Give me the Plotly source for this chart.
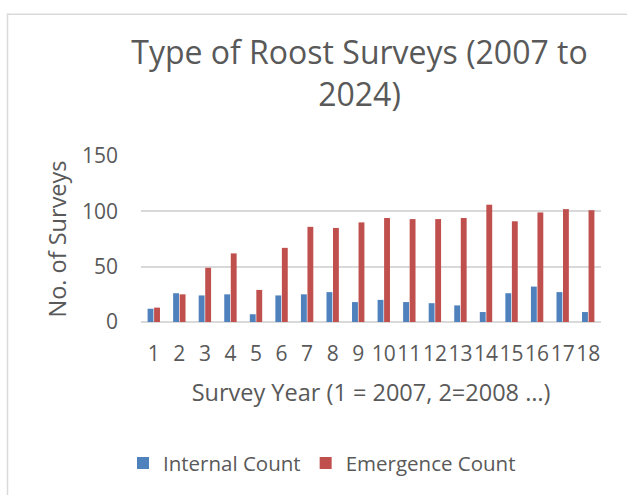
import plotly.graph_objects as go

# Survey year index (1 = 2007 ... 18 = 2024)
years = [str(i) for i in range(1, 19)]
internal_count = [12, 26, 24, 25, 7, 24, 25, 27, 18, 20, 18, 17, 15, 9, 26, 32, 27, 9]
emergence_count = [13, 25, 49, 62, 29, 67, 86, 85, 90, 94, 93, 93, 94, 106, 91, 99, 102, 101]

W, H = 627, 495
L, R, T, B = 141, 26, 156, 171  # plot area 141..601 x 156..324
FONT = "Open Sans"
GREY = "#595959"
GRID = "#d9d9d9"

fig = go.Figure()
fig.add_trace(go.Bar(x=years, y=internal_count, name="Internal Count",
                     marker=dict(color="#4F81BD", line=dict(width=0))))
fig.add_trace(go.Bar(x=years, y=emergence_count, name="Emergence Count",
                     marker=dict(color="#C0504D", line=dict(width=0))))

pw = W - L - R
ph = H - T - B


def px_x(p):
    return (p - L) / pw


def px_y(p):
    return (H - B - p) / ph


# chart-area frame (left and top edges visible)
fig.add_shape(type="rect", xref="paper", yref="paper",
              x0=px_x(7.5), x1=px_x(W + 20), y0=px_y(H + 20), y1=px_y(12.5),
              line=dict(color=GRID, width=1.5), fillcolor="rgba(0,0,0,0)", layer="below")

fig.update_layout(
    width=W, height=H,
    margin=dict(l=L, r=R, t=T, b=B, pad=0),
    paper_bgcolor="white", plot_bgcolor="white",
    font=dict(family=FONT, color=GREY, size=20),
    barmode="group", bargap=0.49, bargroupgap=0.1,
    title=dict(text="Type of Roost Surveys (2007 to<br>2024)",
               font=dict(family=FONT, size=32, color=GREY),
               x=359.5 / W, xanchor="center",
               y=1 - 64 / H, yanchor="top"),
    xaxis=dict(type="category", showgrid=False, showline=False, zeroline=False,
               ticks="", ticklabelstandoff=17, tickangle=0,
               tickfont=dict(size=21, color=GREY),
               title=dict(text="Survey Year (1 = 2007, 2=2008 …)",
                          font=dict(size=23.5, color=GREY), standoff=18)),
    yaxis=dict(range=[0, 150], tickvals=[0, 50, 100, 150], showgrid=True,
               gridcolor=GRID, gridwidth=1.5, zeroline=True, zerolinecolor=GRID,
               zerolinewidth=1.5, showline=False, ticks="", ticklabelstandoff=22,
               tickfont=dict(size=21, color=GREY),
               title=dict(text="No. of Surveys", font=dict(size=23.5, color=GREY),
                          standoff=8)),
    legend=dict(orientation="h", x=px_x(123), xanchor="left",
                y=px_y(467), yanchor="middle",
                font=dict(size=20.5, color=GREY), itemclick=False,
                traceorder="normal", bgcolor="rgba(0,0,0,0)"),
    showlegend=True,
)

fig.write_html("out.html")
